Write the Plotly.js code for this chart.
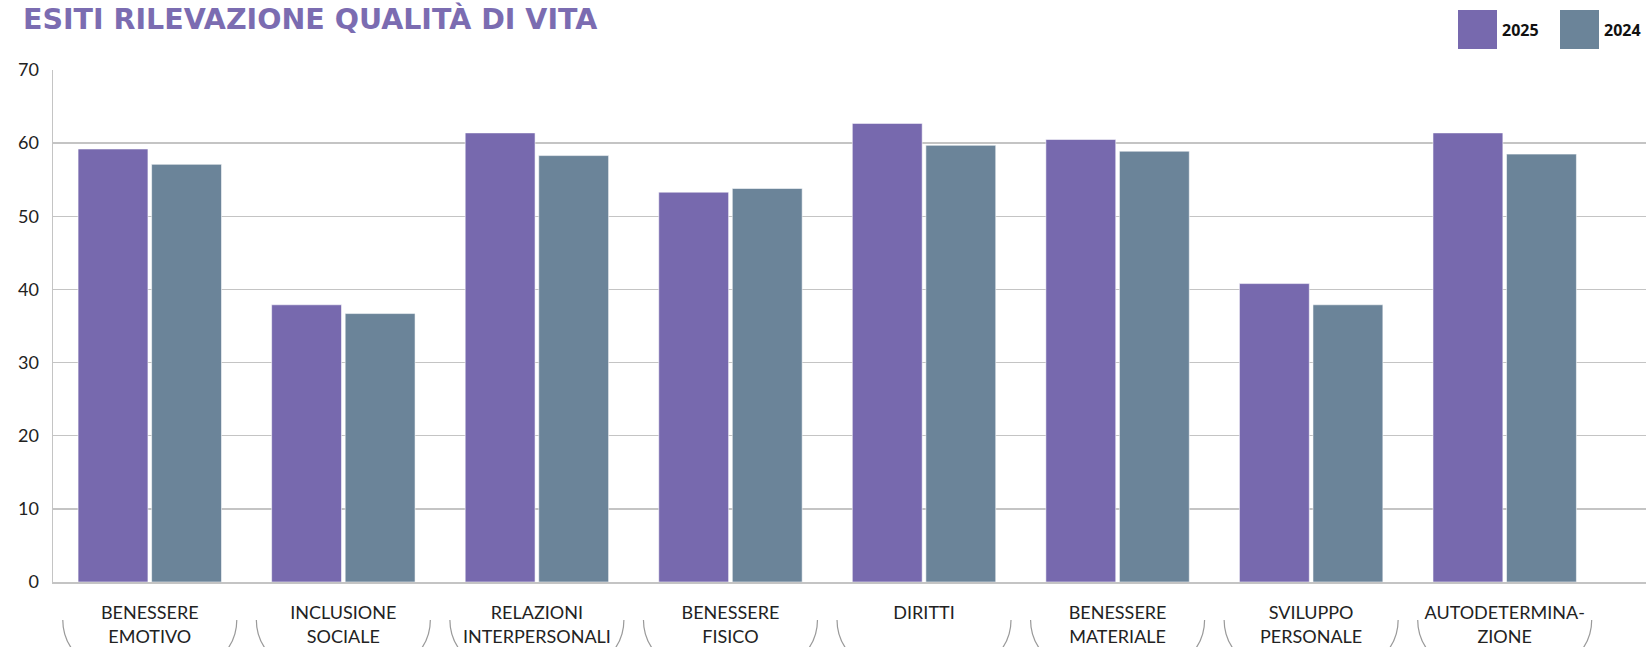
<!DOCTYPE html>
<html>
<head>
<meta charset="utf-8">
<script src="https://cdn.plot.ly/plotly-3.0.1.min.js"></script>
<style>html,body{margin:0;padding:0;background:#fff;}#chart{width:1648px;height:647px;}</style>
</head>
<body>
<div id="chart"></div>
<script>
const categories = ["BENESSERE<br>EMOTIVO","INCLUSIONE<br>SOCIALE","RELAZIONI<br>INTERPERSONALI","BENESSERE<br>FISICO","DIRITTI","BENESSERE<br>MATERIALE","SVILUPPO<br>PERSONALE","AUTODETERMINA-<br>ZIONE"];
const seriesNames = ["2025","2024"];
const values2025 = [59.2, 37.9, 61.4, 53.3, 62.7, 60.5, 40.8, 61.4];
const values2024 = [57.1, 36.7, 58.3, 53.8, 59.7, 58.9, 37.9, 58.5];
const yTicks = [0,10,20,30,40,50,60,70];

const colors = ["#7769ae","#6b8499"];
const W = 1648, H = 647;
const M = {l:53, r:2, t:70, b:65};
const PW = W - M.l - M.r, PH = H - M.t - M.b;
const XR = [-0.5, 7.73];
const px2x = x => (x - M.l)/PW;
const py2y = y => (H - M.b - y)/PH;
const cat2px = i => M.l + (i - XR[0])/(XR[1]-XR[0])*PW;

const traces = [values2025, values2024].map((v,k)=>({
  type:'bar', x:categories, y:v, name:seriesNames[k],
  marker:{color:colors[k], line:{color:'rgba(255,255,255,0.55)', width:1}},
  hoverinfo:'skip', showlegend:false
}));

const shapes = [];
const annotations = [];
// bracket arcs under each category
const n = categories.length;
for(let i=0;i<n;i++){
  const cx = cat2px(i);
  const L = cx-87, R = cx+87, top = 620, r = 50;
  const f = (x,y)=> px2x(x).toFixed(5)+','+py2y(y).toFixed(5);
  const d = 'M'+f(L,top)+' C'+f(L,top+r*0.55)+' '+f(L+r*0.45,top+r)+' '+f(L+r,top+r)+
            ' L'+f(R-r,top+r)+' C'+f(R-r*0.45,top+r)+' '+f(R,top+r*0.55)+' '+f(R,top);
  shapes.push({type:'path', xref:'paper', yref:'paper', path:d, line:{color:'#9a9a9a', width:1.2}, layer:'above'});
}
// legend
const legX = [1458, 1560];
seriesNames.forEach((nm,k)=>{
  shapes.push({type:'rect', xref:'paper', yref:'paper', x0:px2x(legX[k]), x1:px2x(legX[k]+39), y0:py2y(49), y1:py2y(10), fillcolor:colors[k], line:{width:0}});
  annotations.push({xref:'paper', yref:'paper', x:px2x(legX[k]+42), y:py2y(30), xanchor:'left', yanchor:'middle', showarrow:false, text:'<b>'+nm+'</b>', font:{family:'Open Sans, sans-serif', size:16, color:'#111'}});
});
// title
annotations.push({xref:'paper', yref:'paper', x:px2x(21), y:py2y(0), xanchor:'left', yanchor:'top', showarrow:false,
  text:'<b>ESITI RILEVAZIONE QUALITÀ DI VITA</b>', font:{family:'DejaVu Sans, sans-serif', size:28.5, color:'#7b6cb1'}});

const layout = {
  width:W, height:H, margin:M, paper_bgcolor:'#fff', plot_bgcolor:'#fff',
  barmode:'group', bargap:0.24, bargroupgap:0.05,
  xaxis:{type:'category', range:XR, showgrid:false, showline:true, linecolor:'#c4c4c4', linewidth:1.5, ticks:'', ticklabelstandoff:14,
    tickfont:{family:'Lato, sans-serif', size:18, color:'#222'}},
  yaxis:{range:[0,70], tickvals:yTicks, showgrid:true, gridcolor:'#c4c4c4', gridwidth:1.3, showline:true, linecolor:'#c4c4c4', linewidth:1.5,
    zeroline:false, ticks:'', ticklabelstandoff:9, tickfont:{family:'Lato, sans-serif', size:18, color:'#222'}},
  shapes:shapes, annotations:annotations, showlegend:false
};
Plotly.newPlot('chart', traces, layout, {displayModeBar:false, staticPlot:true});
</script>
</body>
</html>
